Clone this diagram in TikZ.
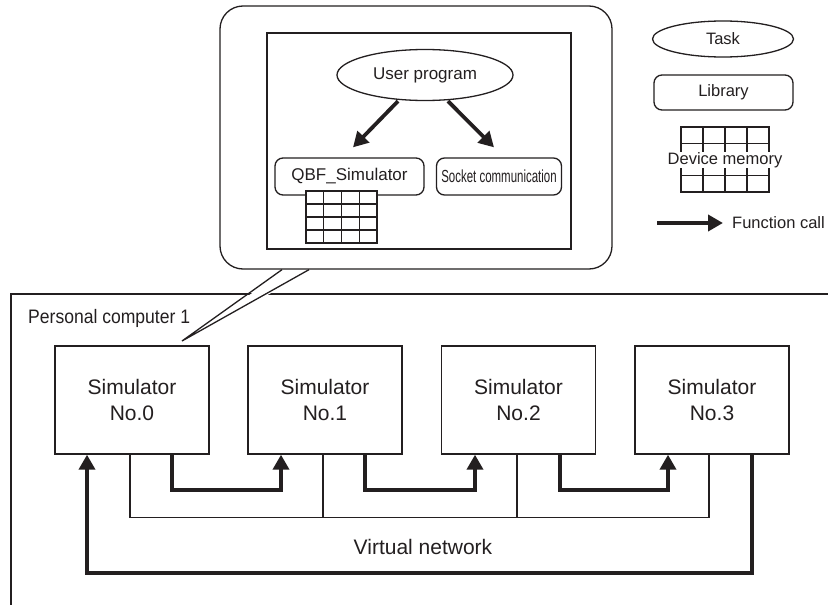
\documentclass[tikz,border=0pt]{standalone}
\usepackage{fontspec}
\usepackage{graphicx}
\setmainfont{Liberation Sans}
\usetikzlibrary{arrows.meta,calc,shapes.geometric}
\definecolor{ink}{RGB}{35,31,32}
\newcommand\memgrid[4]{%
  \draw[thinline, fill=white] (#1,#2) rectangle (#1+#3,#2+#4);
  \foreach \i in {1,2,3} {
    \draw[thinline] (#1+\i*#3/4,#2) -- (#1+\i*#3/4,#2+#4);
    \draw[thinline] (#1,#2+\i*#4/4) -- (#1+#3,#2+\i*#4/4);
  }}
\begin{document}
\begin{tikzpicture}[x=1pt,y=-1pt, line join=miter,
  every node/.style={text=ink},
  thinline/.style={draw=ink, line width=1.3pt},
  simbox/.style={draw=ink, line width=1.4pt, minimum width=154pt, minimum height=108pt, inner sep=0pt, align=center, font=\fontsize{21}{26}\selectfont},
  libbox/.style={draw=ink, line width=1.3pt, rounded corners=8pt, inner sep=0pt, fill=white},
  taskell/.style={draw=ink, line width=1.3pt, ellipse, inner sep=0pt, fill=white},
  fcall/.style={draw=ink, line width=3.8pt, -{Triangle[length=15pt,width=16pt]}},
  net/.style={draw=ink, line width=1.2pt},
]
\useasboundingbox (0,0) rectangle (828,605);
\fill[white] (0,0) rectangle (828,605);

% Personal computer frame
\draw[thinline] (11,605) -- (11,294) -- (828,294);
\node[anchor=west, inner sep=0pt, font=\fontsize{19.5}{22}\selectfont] (pc) at (28,318) {\scalebox{0.9}[1]{Personal computer 1}};

% Simulators
\node[simbox] (s0) at (132,400) {Simulator\\No.0};
\node[simbox] (s1) at (325,400) {Simulator\\No.1};
\node[simbox] (s2) at (518.5,400) {Simulator\\No.2};
\node[simbox] (s3) at (712,400) {Simulator\\No.3};

% Virtual network
\draw[net] ([xshift=-2pt]s0.south) -- ++(0,63) coordinate (n0) -| ([xshift=-3pt]s3.south);
\draw[net] ([xshift=-2pt]s1.south) -- ([xshift=-2pt]s1.south |- n0);
\draw[net] ([xshift=-1.5pt]s2.south) -- ([xshift=-1.5pt]s2.south |- n0);
\node[font=\fontsize{21}{24}\selectfont] (vn) at (423,547) {Virtual network};

% Function call arrows between simulators
\draw[fcall] ([xshift=40pt]s0.south) -- ++(0,35) -| ([xshift=-44pt]s1.south);
\draw[fcall] ([xshift=40pt]s1.south) -- ++(0,35) -| ([xshift=-43.5pt]s2.south);
\draw[fcall] ([xshift=41.5pt]s2.south) -- ++(0,35) -| ([xshift=-44pt]s3.south);
\draw[fcall] ([xshift=40pt]s3.south) -- ++(0,118) -| ([xshift=-45pt]s0.south);

% Callout
\node[draw=ink, line width=1.3pt, rounded corners=23pt, fill=white, minimum width=392pt, minimum height=263pt, inner sep=0pt] (callout) at (416,137.5) {};
\coordinate (tip) at (182,341);
\fill[white] ([xshift=-134pt,yshift=-3pt]callout.south) -- (tip) -- ([xshift=-107pt,yshift=-3pt]callout.south) -- cycle;
\draw[thinline] ([xshift=-134pt]callout.south) -- (tip) -- ([xshift=-107pt]callout.south);

\node[draw=ink, line width=1.3pt, minimum width=304pt, minimum height=216pt, inner sep=0pt] (inner) at (419,141) {};
\node[taskell, minimum width=176pt, minimum height=51pt, font=\fontsize{17}{20}\selectfont] (up) at (425,75) {User program};
\node[libbox, minimum width=149pt, minimum height=37pt, font=\fontsize{17}{20}\selectfont] (qbf) at (349.5,176.5) {QBF\_Simulator};
\node[libbox, minimum width=125pt, minimum height=37pt, font=\fontsize{17.5}{20}\selectfont] (sock) at (499,176.5) {\scalebox{0.655}[1]{Socket communication}};
\memgrid{306}{191}{71}{52}
\draw[fcall] ($(up.south)+(-27,0)$) -- ($(qbf.north)+(3.5,-10)$);
\draw[fcall] ($(up.south)+(23,0)$) -- ($(sock.north)+(-5,-10)$);

% Legend
\node[taskell, minimum width=141pt, minimum height=36pt, font=\fontsize{16.5}{20}\selectfont] (task) at (723,39) {Task};
\node[libbox, minimum width=139pt, minimum height=35pt, font=\fontsize{16.5}{20}\selectfont] (lib) at (723.5,92.5) {Library};
\memgrid{681}{127}{88}{65}
\node[fill=white, inner sep=0.5pt, font=\fontsize{16.5}{20}\selectfont] (dm) at (725,160) {Device memory};
\node[anchor=west, inner sep=0pt, font=\fontsize{16.5}{20}\selectfont] (fc) at (732,223) {Function call};
\coordinate (fcs) at (657,223);
\draw[fcall] (fcs) -- ([xshift=-9pt]fc.west);
\end{tikzpicture}
\end{document}
